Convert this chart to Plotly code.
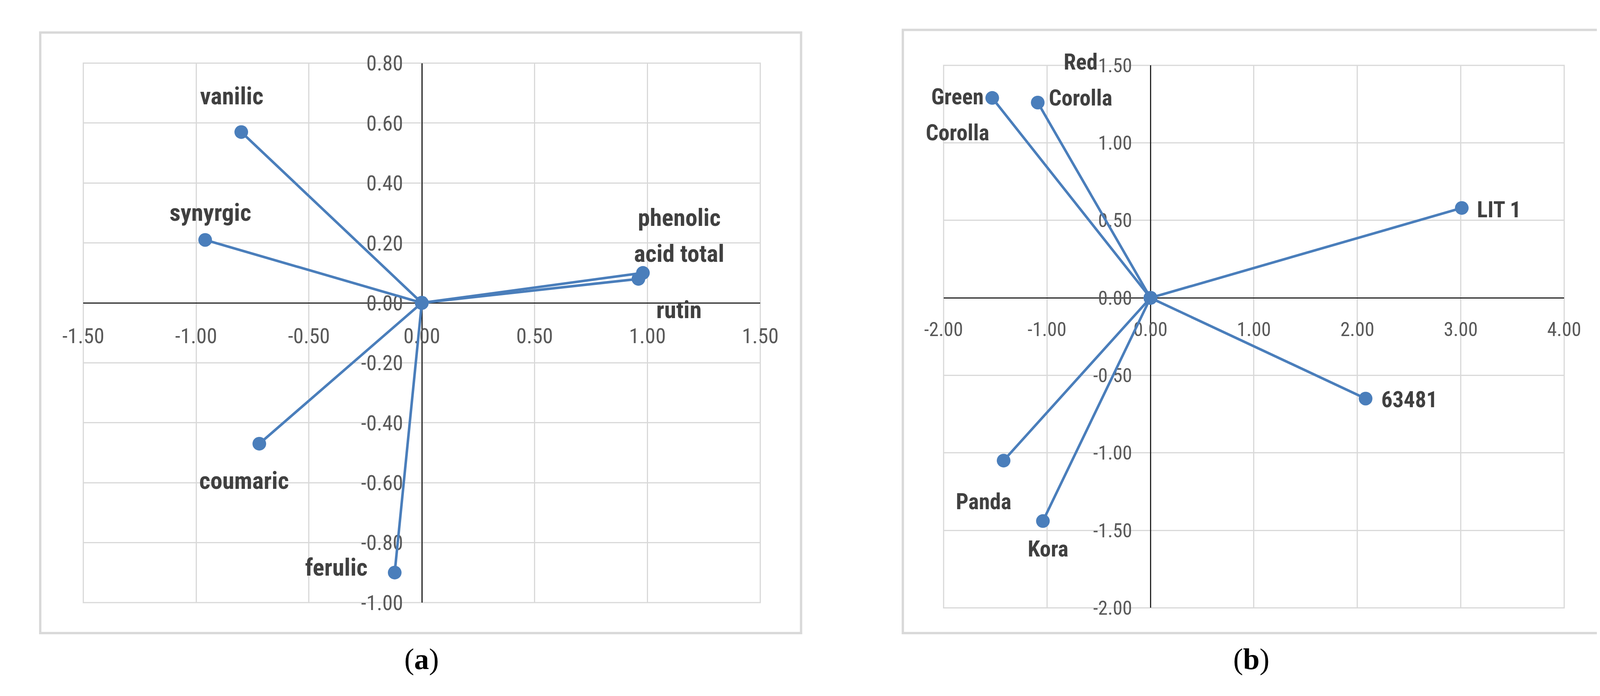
import plotly.graph_objects as go

# === DATA ===
# panel (a) : phenolic compounds loadings
a_names = ["vanilic", "synyrgic", "phenolic\nacid total", "rutin", "coumaric", "ferulic"]
a_x = [-0.80, -0.96, 0.98, 0.96, -0.72, -0.12]
a_y = [0.57, 0.21, 0.10, 0.08, -0.47, -0.90]

# panel (b) : cultivars scores
b_names = ["Green\nCorolla", "Red\nCorolla", "LIT 1", "63481", "Panda", "Kora"]
b_x = [-1.53, -1.09, 3.01, 2.08, -1.42, -1.04]
b_y = [1.29, 1.26, 0.58, -0.65, -1.05, -1.44]

a_xticks = [-1.5, -1.0, -0.5, 0.0, 0.5, 1.0, 1.5]
a_xticktext = ["-1.50", "-1.00", "-0.50", "0.00", "0.50", "1.00", "1.50"]
a_yticks = [-1.0, -0.8, -0.6, -0.4, -0.2, 0.0, 0.2, 0.4, 0.6, 0.8]
a_yticktext = ["-1.00", "-0.80", "-0.60", "-0.40", "-0.20", "0.00", "0.20", "0.40", "0.60", "0.80"]

b_xticks = [-2, -1, 0, 1, 2, 3, 4]
b_xticktext = ["-2.00", "-1.00", "0.00", "1.00", "2.00", "3.00", "4.00"]
b_yticks = [-2.0, -1.5, -1.0, -0.5, 0.0, 0.5, 1.0, 1.5]
b_yticktext = ["-2.00", "-1.50", "-1.00", "-0.50", "0.00", "0.50", "1.00", "1.50"]

# === STYLE ===
W, H = 4176, 1781
BLUE = "#4a7ebb"
GRID = "#d9d9d9"
TICK_COLOR = "#595959"
LABEL_COLOR = "#404040"
SANS = "Roboto Condensed, Carlito, sans-serif"   # narrow and tall, like the stretched Calibri
SERIF = "Liberation Serif, DejaVu Serif, serif"

# label offsets from the point (px, first line), one entry per name
a_offsets = {"vanilic": (-25, 92), "synyrgic": (13, 70), "phenolic\nacid total": (93, 142),
             "rutin": (104, -79), "coumaric": (-39, -94), "ferulic": (-149, 14)}
b_offsets = {"Green\nCorolla": (-89, 3), "Red\nCorolla": (110, 104), "LIT 1": (95, -4),
             "63481": (112, -3), "Panda": (-51, -105), "Kora": (13, -71)}


def fx(px):
    return px / W


def fy(py):
    return 1 - py / H


def add_panel(fig, n, names, xs, ys, offsets, box, frame, xr, yr,
              xticks, xtext, yticks, ytext, tick_size, label_size, caption, cap_x):
    xa = "x" if n == 1 else f"x{n}"
    ya = "y" if n == 1 else f"y{n}"

    for name, x, y in zip(names, xs, ys):
        fig.add_trace(go.Scatter(
            x=[0, x], y=[0, y],
            mode="lines+markers",
            line=dict(color=BLUE, width=6.5),
            marker=dict(color=BLUE, size=35),
            name=name.replace("\n", " "),
            xaxis=xa, yaxis=ya,
            showlegend=False,
        ))
        dx, dy = offsets[name]
        for i, line in enumerate(name.split("\n")):
            fig.add_annotation(
                x=x, y=y, xref=xa, yref=ya, text=line, showarrow=False,
                xshift=dx, yshift=dy - i * 92,
                xanchor="center", yanchor="middle",
                font=dict(family=SANS, size=label_size, color=LABEL_COLOR, weight="bold"),
            )

    left, top, right, bottom = box
    xdom = [fx(left), fx(right)]
    ydom = [fy(bottom), fy(top)]
    # axes cross at zero, like the Excel chart
    x_pos = ydom[0] + (0 - yr[0]) / (yr[1] - yr[0]) * (ydom[1] - ydom[0])
    y_pos = xdom[0] + (0 - xr[0]) / (xr[1] - xr[0]) * (xdom[1] - xdom[0])

    common = dict(
        showgrid=True, gridcolor=GRID, gridwidth=3,
        zeroline=False, showline=True, linecolor="#262626", linewidth=3,
        ticks="", tickfont=dict(family=SANS, size=tick_size, color=TICK_COLOR),
        layer="below traces", fixedrange=True,
    )
    fig.update_layout(**{
        ("xaxis" if n == 1 else f"xaxis{n}"): dict(
            domain=xdom, range=xr, anchor="free", position=x_pos,
            tickmode="array", tickvals=xticks, ticktext=xtext,
            ticklabelstandoff=36, **common),
        ("yaxis" if n == 1 else f"yaxis{n}"): dict(
            domain=ydom, range=yr, anchor="free", position=y_pos,
            tickmode="array", tickvals=yticks, ticktext=ytext,
            ticklabelstandoff=36, **common),
    })

    # plot area border and outer chart frame
    fig.add_shape(type="rect", xref=f"{xa} domain", yref=f"{ya} domain",
                  x0=0, x1=1, y0=0, y1=1, line=dict(color=GRID, width=3), layer="below")
    fl, ft, fr, fb = frame
    fig.add_shape(type="rect", xref="paper", yref="paper",
                  x0=fx(fl), x1=fx(fr), y0=fy(fb), y1=fy(ft),
                  line=dict(color=GRID, width=6), layer="below")

    fig.add_annotation(xref="paper", yref="paper", x=fx(cap_x), y=fy(1708),
                       text=caption, showarrow=False, xanchor="center", yanchor="middle",
                       font=dict(family=SERIF, size=76, color="black"))


# === MAIN ===
fig = go.Figure()

add_panel(fig, 1, a_names, a_x, a_y, a_offsets,
          box=(155, 127, 1931, 1558), frame=(42, 46, 2038, 1639),
          xr=[-1.5, 1.5], yr=[-1.0, 0.8],
          xticks=a_xticks, xtext=a_xticktext, yticks=a_yticks, ytext=a_yticktext,
          tick_size=54, label_size=62, caption="(<b>a</b>)", cap_x=1043)

add_panel(fig, 2, b_names, b_x, b_y, b_offsets,
          box=(2412, 133, 4040, 1572), frame=(2305, 39, 4138, 1639),
          xr=[-2, 4], yr=[-2, 1.5],
          xticks=b_xticks, xtext=b_xticktext, yticks=b_yticks, ytext=b_yticktext,
          tick_size=50, label_size=57, caption="(<b>b</b>)", cap_x=3219)

fig.update_layout(
    width=W, height=H,
    margin=dict(l=0, r=0, t=0, b=0),
    paper_bgcolor="white",
    plot_bgcolor="white",
    showlegend=False,
)

fig.write_html("out.html")
